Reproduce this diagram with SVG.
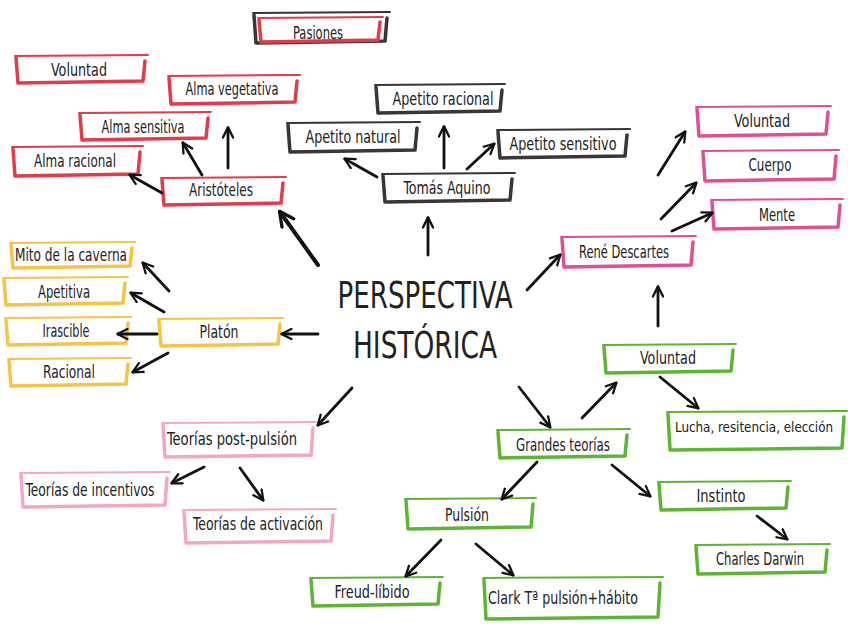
<svg xmlns="http://www.w3.org/2000/svg" width="848" height="636" viewBox="0 0 848 636">
<defs>
<style>
.t{fill:none;stroke-width:2;stroke-linecap:round}
.k{fill:none;stroke-width:3.5;stroke-linejoin:round;stroke-linecap:round}
.red{stroke:#e23b4a}.dark{stroke:#3b3535}.mag{stroke:#df4f98}.yel{stroke:#f6c445}.pink{stroke:#f4a6c6}.grn{stroke:#5db633}
text{font-family:"DejaVu Sans","Liberation Sans",sans-serif;font-stretch:condensed;font-size:17px;fill:#222;text-anchor:middle}
.big{font-size:38px}
.sm{font-size:14.5px}
.c{fill:none;stroke:#111;stroke-width:2.8;stroke-linecap:round;marker-end:url(#a)}
.c4{stroke-width:4}
</style>
<marker id="a" viewBox="0 0 10 10" refX="8.5" refY="5" markerWidth="4.5" markerHeight="4.5" markerUnits="strokeWidth" orient="auto">
<path d="M1,1 L9,5 L1,9" fill="none" stroke="#111" stroke-width="1.8" stroke-linecap="round" stroke-linejoin="round"/>
</marker>
</defs>
<rect width="848" height="636" fill="#fff"/>

<g id="center"><text class="big" x="425" y="308" textLength="175" lengthAdjust="spacingAndGlyphs">PERSPECTIVA</text><text class="big" x="425" y="358" textLength="144" lengthAdjust="spacingAndGlyphs">HISTÓRICA</text></g>

<g id="n-pasiones"><path class="t dark" d="M253,13 L390,12"/><path class="k dark" d="M254,15 L256,43 L385,41 L387,18"/><path class="t red" d="M258,18 L383,17"/><path class="k red" d="M259,20 L261,42 L378,40 L380,22"/><text x="318" y="39" textLength="50" lengthAdjust="spacingAndGlyphs">Pasiones</text></g>
<g id="n-voluntad-r"><path class="t red" d="M15,56 L148,55"/><path class="k red" d="M16,58 L18,83 L143,81 L145,61"/><text x="79" y="76" textLength="56" lengthAdjust="spacingAndGlyphs">Voluntad</text></g>
<g id="n-alma-veg"><path class="t red" d="M168,76 L300,75"/><path class="k red" d="M169,78 L171,104 L295,102 L297,81"/><text x="232" y="95" textLength="93" lengthAdjust="spacingAndGlyphs">Alma vegetativa</text></g>
<g id="n-alma-sen"><path class="t red" d="M79,113 L211,112"/><path class="k red" d="M80,115 L82,140 L206,138 L208,118"/><text x="143" y="133" textLength="83" lengthAdjust="spacingAndGlyphs">Alma sensitiva</text></g>
<g id="n-alma-rac"><path class="t red" d="M12,147 L143,146"/><path class="k red" d="M13,149 L15,176 L138,174 L140,152"/><text x="75" y="167" textLength="82" lengthAdjust="spacingAndGlyphs">Alma racional</text></g>
<g id="n-aristoteles"><path class="t red" d="M161,178 L286,177"/><path class="k red" d="M162,180 L164,205 L281,203 L283,183"/><text x="221" y="196" textLength="64" lengthAdjust="spacingAndGlyphs">Aristóteles</text></g>

<g id="n-ap-rac"><path class="t dark" d="M375,85 L505,84"/><path class="k dark" d="M376,87 L378,113 L500,111 L502,90"/><text x="443" y="105" textLength="101" lengthAdjust="spacingAndGlyphs">Apetito racional</text></g>
<g id="n-ap-nat"><path class="t dark" d="M287,123 L420,122"/><path class="k dark" d="M288,125 L290,152 L415,150 L417,128"/><text x="353" y="143" textLength="95" lengthAdjust="spacingAndGlyphs">Apetito natural</text></g>
<g id="n-ap-sen"><path class="t dark" d="M497,130 L630,129"/><path class="k dark" d="M498,132 L500,158 L625,156 L627,135"/><text x="563" y="150" textLength="107" lengthAdjust="spacingAndGlyphs">Apetito sensitivo</text></g>
<g id="n-tomas"><path class="t dark" d="M382,174 L515,173"/><path class="k dark" d="M383,176 L385,202 L510,200 L512,179"/><text x="447" y="194" textLength="87" lengthAdjust="spacingAndGlyphs">Tomás Aquino</text></g>

<g id="n-rene"><path class="t mag" d="M561,237 L696,236"/><path class="k mag" d="M562,239 L564,267 L691,265 L693,242"/><text x="624" y="258" textLength="90" lengthAdjust="spacingAndGlyphs">René Descartes</text></g>
<g id="n-voluntad-m"><path class="t mag" d="M696,107 L831,106"/><path class="k mag" d="M697,109 L699,136 L826,134 L828,112"/><text x="762" y="127" textLength="56" lengthAdjust="spacingAndGlyphs">Voluntad</text></g>
<g id="n-cuerpo"><path class="t mag" d="M702,151 L839,150"/><path class="k mag" d="M703,153 L705,181 L834,179 L836,156"/><text x="770" y="171" textLength="43" lengthAdjust="spacingAndGlyphs">Cuerpo</text></g>
<g id="n-mente"><path class="t mag" d="M711,200 L843,199"/><path class="k mag" d="M712,202 L714,229 L838,227 L840,205"/><text x="777" y="221" textLength="36" lengthAdjust="spacingAndGlyphs">Mente</text></g>

<g id="n-mito"><path class="t yel" d="M10,243 L135,242"/><path class="k yel" d="M11,245 L13,268 L130,266 L132,248"/><text x="71" y="261" textLength="112" lengthAdjust="spacingAndGlyphs">Mito de la caverna</text></g>
<g id="n-apetitiva"><path class="t yel" d="M3,278 L128,277"/><path class="k yel" d="M4,280 L6,305 L123,303 L125,283"/><text x="64" y="298" textLength="52" lengthAdjust="spacingAndGlyphs">Apetitiva</text></g>
<g id="n-irascible"><path class="t yel" d="M5,318 L131,317"/><path class="k yel" d="M6,320 L8,345 L126,343 L128,323"/><text x="66" y="337" textLength="47" lengthAdjust="spacingAndGlyphs">Irascible</text></g>
<g id="n-racional"><path class="t yel" d="M8,359 L131,358"/><path class="k yel" d="M9,361 L11,386 L126,384 L128,364"/><text x="69" y="378" textLength="52" lengthAdjust="spacingAndGlyphs">Racional</text></g>
<g id="n-platon"><path class="t yel" d="M158,319 L283,318"/><path class="k yel" d="M159,321 L161,346 L278,344 L280,324"/><text x="219" y="338" textLength="39" lengthAdjust="spacingAndGlyphs">Platón</text></g>

<g id="n-post"><path class="t pink" d="M162,423 L316,422"/><path class="k pink" d="M163,425 L165,457 L311,455 L313,428"/><text x="232" y="445" textLength="130" lengthAdjust="spacingAndGlyphs">Teorías post-pulsión</text></g>
<g id="n-incentivos"><path class="t pink" d="M20,473 L170,472"/><path class="k pink" d="M21,475 L23,507 L165,505 L167,478"/><text x="90" y="496" textLength="129" lengthAdjust="spacingAndGlyphs">Teorías de incentivos</text></g>
<g id="n-activacion"><path class="t pink" d="M183,510 L336,509"/><path class="k pink" d="M184,512 L186,543 L331,541 L333,515"/><text x="258" y="530" textLength="130" lengthAdjust="spacingAndGlyphs">Teorías de activación</text></g>

<g id="n-grandes"><path class="t grn" d="M497,430 L630,429"/><path class="k grn" d="M498,432 L500,458 L625,456 L627,435"/><text x="563" y="451" textLength="94" lengthAdjust="spacingAndGlyphs">Grandes teorías</text></g>
<g id="n-voluntad-g"><path class="t grn" d="M603,345 L736,344"/><path class="k grn" d="M604,347 L606,373 L731,371 L733,350"/><text x="668" y="364" textLength="56" lengthAdjust="spacingAndGlyphs">Voluntad</text></g>
<g id="n-lucha"><path class="t grn" d="M667,412 L847,411"/><path class="k grn" d="M668,414 L670,450 L842,448 L844,417"/><text class="sm" x="754" y="432" textLength="158" lengthAdjust="spacingAndGlyphs">Lucha, resitencia, elección</text></g>
<g id="n-pulsion"><path class="t grn" d="M405,499 L536,498"/><path class="k grn" d="M406,501 L408,529 L531,527 L533,504"/><text x="467" y="521" textLength="44" lengthAdjust="spacingAndGlyphs">Pulsión</text></g>
<g id="n-instinto"><path class="t grn" d="M658,482 L791,481"/><path class="k grn" d="M659,484 L661,510 L786,508 L788,487"/><text x="721" y="502" textLength="49" lengthAdjust="spacingAndGlyphs">Instinto</text></g>
<g id="n-darwin"><path class="t grn" d="M695,545 L830,544"/><path class="k grn" d="M696,547 L698,574 L825,572 L827,550"/><text x="760" y="565" textLength="88" lengthAdjust="spacingAndGlyphs">Charles Darwin</text></g>
<g id="n-freud"><path class="t grn" d="M310,578 L443,577"/><path class="k grn" d="M311,580 L313,606 L438,604 L440,583"/><text x="372" y="598" textLength="75" lengthAdjust="spacingAndGlyphs">Freud-líbido</text></g>
<g id="n-clark"><path class="t grn" d="M483,578 L663,577"/><path class="k grn" d="M484,580 L486,619 L658,617 L660,583"/><text x="563" y="604" textLength="150" lengthAdjust="spacingAndGlyphs">Clark Tª pulsión+hábito</text></g>

<g id="connectors">
<path class="c" d="M162,193 L130,175"/>
<path class="c" d="M202,175 L183,143"/>
<path class="c" d="M228,168 L228,128"/>
<path class="c c4" d="M318,265 L280,212"/>
<path class="c" d="M377,177 L345,159"/>
<path class="c" d="M444,168 L444,127"/>
<path class="c" d="M467,169 L494,144"/>
<path class="c" d="M428,255 L428,218"/>
<path class="c" d="M658,175 L685,132"/>
<path class="c" d="M661,219 L696,183"/>
<path class="c" d="M672,231 L712,213"/>
<path class="c" d="M527,290 L560,255"/>
<path class="c" d="M658,326 L658,287"/>
<path class="c" d="M169,291 L143,263"/>
<path class="c" d="M164,312 L131,293"/>
<path class="c" d="M157,334 L118,334"/>
<path class="c" d="M168,353 L133,372"/>
<path class="c" d="M318,334 L282,334"/>
<path class="c" d="M352,388 L318,425"/>
<path class="c" d="M204,467 L172,483"/>
<path class="c" d="M240,468 L263,500"/>
<path class="c" d="M519,387 L550,427"/>
<path class="c" d="M582,418 L616,383"/>
<path class="c" d="M660,377 L698,408"/>
<path class="c" d="M537,462 L502,499"/>
<path class="c" d="M612,465 L650,496"/>
<path class="c" d="M441,540 L406,576"/>
<path class="c" d="M476,544 L513,575"/>
<path class="c" d="M757,516 L787,539"/>
</g>
</svg>
